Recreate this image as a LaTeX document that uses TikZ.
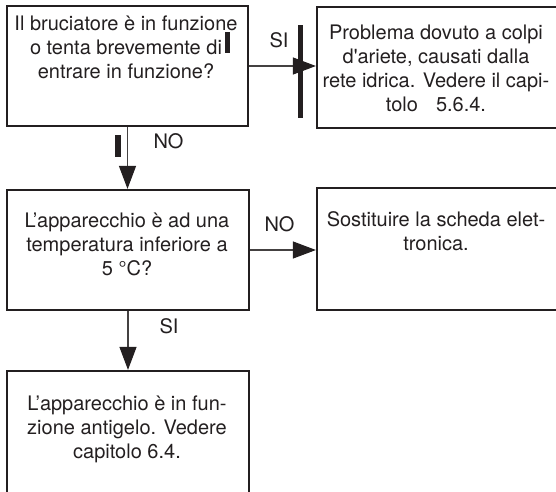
\documentclass[tikz,border=0pt]{standalone}
\usepackage{fontspec}
\setmainfont{TeX Gyre Heros}
\usetikzlibrary{arrows.meta}
\definecolor{ink}{HTML}{231F20}
\newcommand\topst{\rule{0pt}{18pt}}
\begin{document}
\begin{tikzpicture}[x=1pt,y=-1pt,
  box/.style={draw=ink, line width=2.2pt, inner sep=0pt},
  txt/.style={anchor=north, align=center, inner sep=0pt, font=\fontsize{20}{24}\selectfont, text=ink},
  lbl/.style={anchor=base, inner sep=0pt, font=\fontsize{20}{24}\selectfont, text=ink},
  conn/.style={draw=ink!85, line width=1.1pt, -{Triangle[length=23pt,width=17pt,color=ink]}},
  changebar/.style={fill=ink, draw=none}
]
\useasboundingbox (0,0) rectangle (556,491);
\clip (0,0) rectangle (556,491);
% boxes
\node[box, minimum width=241pt, minimum height=120pt] (b1) at (127.5,66) {};
\node[box, minimum width=263pt, minimum height=121pt] (b2) at (448.5,67.5) {};
\node[box, minimum width=242pt, minimum height=120pt] (b3) at (128,250) {};
\node[box, minimum width=263pt, minimum height=122pt] (b4) at (448.5,249) {};
\node[box, minimum width=242pt, minimum height=140pt] (b5) at (128,441) {};
% texts
\node[txt] (t1) at (126,12) {\topst Il bruciatore è in funzione\\ o tenta brevemente di\\ entrare in funzione?};
\node[txt] (t2) at (436,21) {\topst Problema dovuto a colpi\\ d\textquotesingle ariete, causati dalla\\ rete idrica. Vedere il capi-\\ tolo\hspace{0.9em}5.6.4.};
\node[txt] (t3) at (127,209) {\topst L’apparecchio è ad una\\ temperatura inferiore a\\ 5 °C?};
\node[txt] (t4) at (436,208) {\topst Sostituire la scheda elet-\\ tronica.};
\node[txt] (t5) at (127,392) {\topst L’apparecchio è in fun-\\ zione antigelo. Vedere\\ capitolo 6.4.};
% connectors
\draw[conn] (b1.east) -- (b2.west |- b1.east);
\draw[conn] (b1.south) -- (b1.south |- b3.north);
\draw[conn] (b3.east) -- (b4.west |- b3.east);
\draw[conn] (b3.south) -- (b5.north);
% labels
\node[lbl] (si1) at (279,47) {SI};
\node[lbl] (no1) at (168.5,148) {NO};
\node[lbl] (no2) at (279.5,231) {NO};
\node[lbl] (si2) at (169,333) {SI};
% change bars
\fill[changebar] (298,25) rectangle (303,118);
\fill[changebar] (225,32) rectangle (230,53);
\fill[changebar] (115,135) rectangle (121,157);
\end{tikzpicture}
\end{document}
